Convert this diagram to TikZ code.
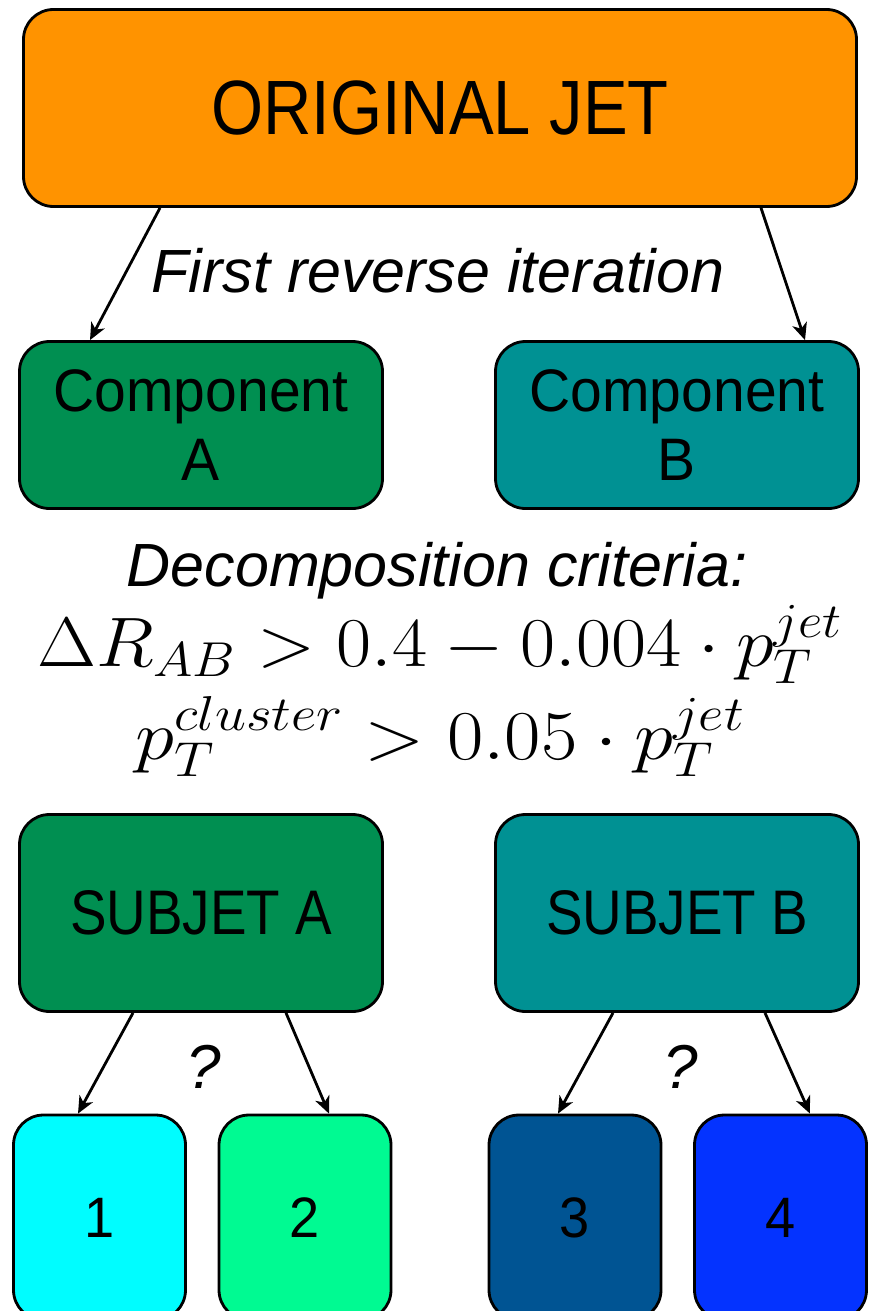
\RequirePackage{fix-cm}
\documentclass[tikz,border=0pt]{standalone}
\usepackage[no-math]{fontspec}
\usepackage{graphicx}
\usetikzlibrary{arrows.meta}
\newfontfamily\hcap[FakeStretch=0.87]{Liberation Sans}
\newfontfamily\hlow[FakeStretch=0.95]{Liberation Sans}
\newfontfamily\hit{Liberation Sans}
\definecolor{tangerine}{HTML}{FF9300}
\definecolor{clover}{HTML}{008F51}
\definecolor{tealc}{HTML}{009193}
\definecolor{turq}{HTML}{00FDFF}
\definecolor{seafoam}{HTML}{00FA92}
\definecolor{ocean}{HTML}{005493}
\definecolor{blueberry}{HTML}{0433FF}
\begin{document}
\begin{tikzpicture}[x=1pt,y=-1pt,
  box/.style={draw=black, line width=2.8pt, rounded corners=30pt, inner sep=0pt, align=center, text=black},
  bigbox/.style={box, minimum width=833pt, minimum height=197pt},
  midbox/.style={box, minimum width=363pt, minimum height=167pt},
  subbox/.style={box, minimum width=363pt, minimum height=197pt},
  smallbox/.style={box, minimum width=172pt, minimum height=205pt},
  arr/.style={line width=2.8pt, -{Stealth[length=17pt,width=15pt,inset=5pt]}},
  lbl/.style={inner sep=0pt, anchor=base, text=black}]
\clip (0,0) rectangle (871,1311);

\node[bigbox, fill=tangerine, font=\hcap\fontsize{77}{80}\selectfont] (jet) at (440,108) {ORIGINAL JET};

\node[midbox, fill=clover, font=\hlow\fontsize{60}{69}\selectfont] (compA) at (201,425) {Component\\A};
\node[midbox, fill=tealc, font=\hlow\fontsize{60}{69}\selectfont] (compB) at (677,425) {Component\\B};

\node[lbl, font=\hit\itshape\fontsize{61}{70}\selectfont] (first) at (438,292) {First reverse iteration};

\draw[arr] ([xshift=-280pt]jet.south) -- ([xshift=-111pt]compA.north);
\draw[arr] ([xshift=321pt]jet.south) -- ([xshift=128pt]compB.north);

\node[lbl, font=\hit\itshape\fontsize{61}{70}\selectfont] (decomp) at (437,586) {Decomposition criteria:};
\node[lbl, font=\fontsize{70}{80}\selectfont] (crit1) at (440,666) {\scalebox{1.09}[1]{$\displaystyle \Delta R_{AB} > 0.4 - 0.004 \cdot p_T^{jet}$}};
\node[lbl, font=\fontsize{70}{80}\selectfont] (crit2) at (440,759) {\scalebox{1.13}[1]{$\displaystyle p_T^{cluster} > 0.05 \cdot p_T^{jet}$}};

\node[subbox, fill=clover, font=\hcap\fontsize{63}{70}\selectfont] (subA) at (201,913) {SUBJET A};
\node[subbox, fill=tealc, font=\hcap\fontsize{63}{70}\selectfont] (subB) at (677,913) {SUBJET B};

\node[smallbox, fill=turq, font=\hlow\fontsize{57}{65}\selectfont] (b1) at (99.5,1217.5) {1};
\node[smallbox, fill=seafoam, font=\hlow\fontsize{57}{65}\selectfont] (b2) at (305,1217.5) {2};
\node[smallbox, fill=ocean, font=\hlow\fontsize{57}{65}\selectfont] (b3) at (575,1217.5) {3};
\node[smallbox, fill=blueberry, font=\hlow\fontsize{57}{65}\selectfont] (b4) at (780.5,1217.5) {4};

\node[lbl, font=\hit\itshape\fontsize{62}{70}\selectfont] (qA) at (204,1088) {?};
\node[lbl, font=\hit\itshape\fontsize{62}{70}\selectfont] (qB) at (681,1088) {?};

\draw[arr] ([xshift=-68pt]subA.south) -- ([xshift=-21.5pt]b1.north);
\draw[arr] ([xshift=85pt]subA.south) -- ([xshift=24pt]b2.north);
\draw[arr] ([xshift=-64pt]subB.south) -- ([xshift=-17pt]b3.north);
\draw[arr] ([xshift=88pt]subB.south) -- ([xshift=29.5pt]b4.north);
\end{tikzpicture}
\end{document}
